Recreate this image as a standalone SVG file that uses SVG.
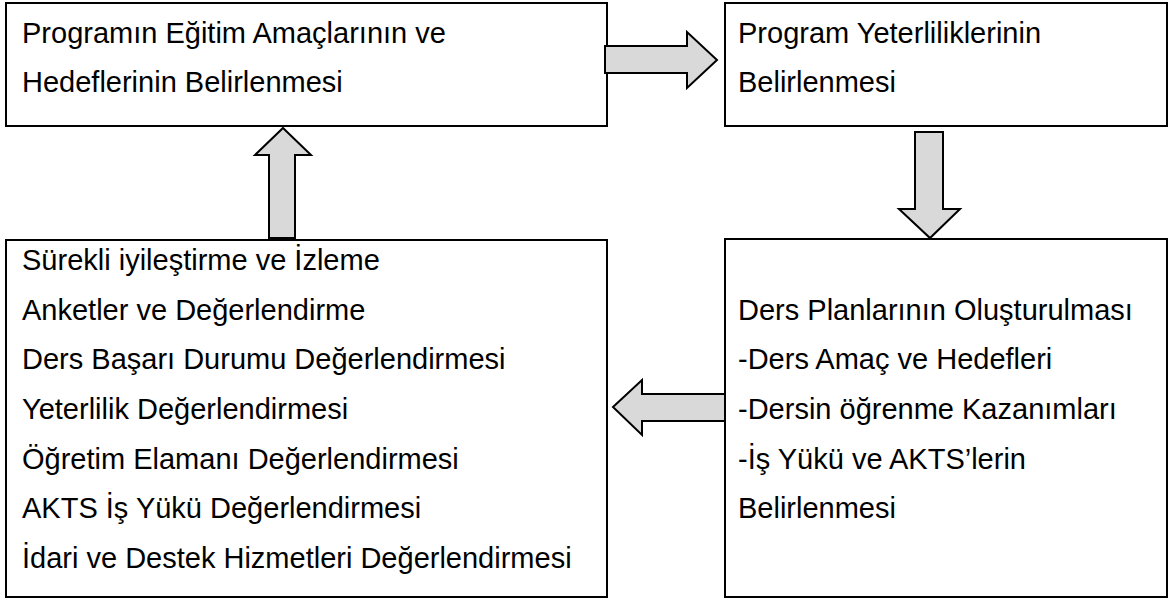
<svg xmlns="http://www.w3.org/2000/svg" width="1169" height="601" viewBox="0 0 1169 601">
  <style>
    .box { fill: #ffffff; stroke: #000000; stroke-width: 2; }
    .arrow { fill: #d9d9d9; stroke: #000000; stroke-width: 2; stroke-linejoin: miter; }
    text { font-family: "Liberation Sans", Arial, sans-serif; font-size: 29px; fill: #000000; }
  </style>
  <rect width="1169" height="601" fill="#ffffff"/>

  <g id="node-amaclar">
    <rect class="box" x="6" y="3" width="601" height="123"/>
    <text x="22" y="43">Programın Eğitim Amaçlarının ve</text>
    <text x="22" y="92">Hedeflerinin Belirlenmesi</text>
  </g>

  <g id="node-yeterlilikler">
    <rect class="box" x="725" y="3" width="442" height="123"/>
    <text x="738" y="43">Program Yeterliliklerinin</text>
    <text x="738" y="92">Belirlenmesi</text>
  </g>

  <g id="node-ders-planlari">
    <rect class="box" x="725" y="239" width="442" height="358"/>
    <text x="738" y="320">Ders Planlarının Oluşturulması</text>
    <text x="738" y="369">-Ders Amaç ve Hedefleri</text>
    <text x="738" y="419">-Dersin öğrenme Kazanımları</text>
    <text x="738" y="469">-İş Yükü ve AKTS’lerin</text>
    <text x="738" y="518">Belirlenmesi</text>
  </g>

  <g id="node-iyilestirme">
    <rect class="box" x="6" y="240" width="601" height="357"/>
    <text x="22" y="270">Sürekli iyileştirme ve İzleme</text>
    <text x="22" y="320">Anketler ve Değerlendirme</text>
    <text x="22" y="369">Ders Başarı Durumu Değerlendirmesi</text>
    <text x="22" y="419">Yeterlilik Değerlendirmesi</text>
    <text x="22" y="469">Öğretim Elamanı Değerlendirmesi</text>
    <text x="22" y="518">AKTS İş Yükü Değerlendirmesi</text>
    <text x="22" y="568">İdari ve Destek Hizmetleri Değerlendirmesi</text>
  </g>

  <g id="connectors">
    <polygon class="arrow" points="605,46 687,46 687,32 717,60 687,88 687,73 605,73"/>
    <polygon class="arrow" points="915,132 943,132 943,209 960,209 930,238 899,209 915,209"/>
    <polygon class="arrow" points="613,407 642,380 642,394 725,394 725,421 642,421 642,435"/>
    <polygon class="arrow" points="283,128 311,155 295,155 295,238 269,238 269,155 255,155"/>
  </g>
</svg>
